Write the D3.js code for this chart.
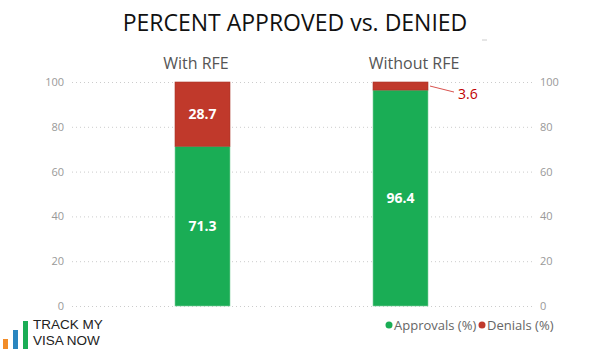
<!DOCTYPE html>
<html>
<head>
<meta charset="utf-8">
<script src="https://cdn.jsdelivr.net/npm/d3@7"></script>
<style>
  body { margin: 0; background: #fff; }
  svg { font-family: "Segoe UI", "Open Sans", sans-serif; }
</style>
</head>
<body>
<div id="chart"></div>
<script>
// data
const groups = ["With RFE", "Without RFE"];
const approvals = [71.3, 96.4];
const denials = [28.7, 3.6];
const seriesNames = ["Approvals (%)", "Denials (%)"];
const yTicks = [0, 20, 40, 60, 80, 100];

const width = 600, height = 349;
const green = "#1aad55", red = "#c0392b";

const svg = d3.select("#chart").append("svg")
    .attr("width", width)
    .attr("height", height);

const y = d3.scaleLinear().domain([0, 100]).range([306, 82]);
const x = d3.scalePoint().domain(groups).range([202.5, 400.5]);
const barW = 55;

// title
svg.append("text")
    .attr("x", 295).attr("y", 31)
    .attr("text-anchor", "middle")
    .attr("font-size", 23)
    .attr("fill", "#111")
    .text("PERCENT APPROVED vs. DENIED");

svg.append("line")
    .attr("x1", 482).attr("x2", 487).attr("y1", 40).attr("y2", 40)
    .attr("stroke", "#ccc");

// panel headers
const headerX = [196, 414];
groups.forEach((g, i) => {
    svg.append("text")
        .attr("x", headerX[i]).attr("y", 69)
        .attr("text-anchor", "middle")
        .attr("font-size", 16)
        .attr("fill", "#555")
        .text(g);
});

// grid lines (two panels)
const panels = [[72, 267], [271, 535]];
panels.forEach(p => {
    svg.append("g").selectAll("line")
        .data(yTicks)
        .join("line")
        .attr("x1", p[0]).attr("x2", p[1])
        .attr("y1", d => y(d) + 0.5).attr("y2", d => y(d) + 0.5)
        .attr("stroke", "#ccc")
        .attr("stroke-dasharray", "1,3");
});

// axes
const leftAxis = svg.append("g")
    .attr("transform", "translate(64,0)")
    .call(d3.axisLeft(y).tickValues(yTicks).tickSize(0).tickPadding(0));
const rightAxis = svg.append("g")
    .attr("transform", "translate(540,0)")
    .call(d3.axisRight(y).tickValues(yTicks).tickSize(0).tickPadding(0));
[leftAxis, rightAxis].forEach(a => {
    a.select(".domain").remove();
    a.selectAll("text").attr("fill", "#999").attr("font-size", 11)
        .attr("font-family", "'Segoe UI', 'Open Sans', sans-serif");
});

// stacked bars
const rows = groups.map((g, i) => ({ group: g, approvals: approvals[i], denials: denials[i] }));
const stack = d3.stack().keys(["approvals", "denials"])(rows);
const colors = { approvals: green, denials: red };

svg.append("g").selectAll("g")
    .data(stack)
    .join("g")
    .attr("fill", d => colors[d.key])
    .selectAll("rect")
    .data(d => d)
    .join("rect")
    .attr("x", d => x(d.data.group) - barW / 2)
    .attr("y", d => y(d[1]))
    .attr("width", barW)
    .attr("height", d => y(d[0]) - y(d[1]))
    .attr("stroke", function() { return d3.select(this.parentNode).datum().key === "approvals" ? "#7fd09e" : "#a83226"; })
    .attr("stroke-width", 0.6);

// value labels inside
stack.forEach(s => {
    s.forEach(d => {
        const v = d[1] - d[0];
        if (v < 10) return;
        svg.append("text")
            .attr("x", x(d.data.group))
            .attr("y", y((d[0] + d[1]) / 2) + 5)
            .attr("text-anchor", "middle")
            .attr("font-size", 14)
            .attr("font-weight", "bold")
            .attr("fill", "#fff")
            .text(v.toFixed(1));
    });
});

// small denial label with leader line
const small = stack[1][1];
const sx = x(small.data.group) + barW / 2;
const sy = y((small[0] + small[1]) / 2);
svg.append("line")
    .attr("x1", sx + 2).attr("y1", sy)
    .attr("x2", sx + 26).attr("y2", sy + 6)
    .attr("stroke", "#d9534f")
    .attr("stroke-width", 1);
svg.append("text")
    .attr("x", sx + 30).attr("y", sy + 13)
    .attr("font-size", 14)
    .attr("fill", "#c00000")
    .text((small[1] - small[0]).toFixed(1));

// legend
const legend = svg.append("g");
const legendX = [389, 482];
seriesNames.forEach((n, i) => {
    legend.append("circle")
        .attr("cx", legendX[i]).attr("cy", 325)
        .attr("r", 3.5)
        .attr("fill", i === 0 ? green : red);
    legend.append("text")
        .attr("x", legendX[i] + 5).attr("y", 330)
        .attr("font-size", 13)
        .attr("fill", "#666")
        .text(n);
});

// logo
const logoBars = [
    { x: 3, top: 339, c: "#f28c28" },
    { x: 13, top: 330, c: "#2a86c0" },
    { x: 23, top: 321, c: "#1aad55" }
];
svg.append("g").selectAll("rect")
    .data(logoBars)
    .join("rect")
    .attr("x", d => d.x).attr("y", d => d.top)
    .attr("width", 5).attr("height", d => 349 - d.top)
    .attr("fill", d => d.c);
const logoText = svg.append("g")
    .attr("font-family", "'Liberation Sans', Arial, sans-serif")
    .attr("font-size", 13.5)
    .attr("fill", "#222");
logoText.append("text").attr("x", 33).attr("y", 329).text("TRACK MY");
logoText.append("text").attr("x", 33).attr("y", 345).text("VISA NOW");
</script>
</body>
</html>
